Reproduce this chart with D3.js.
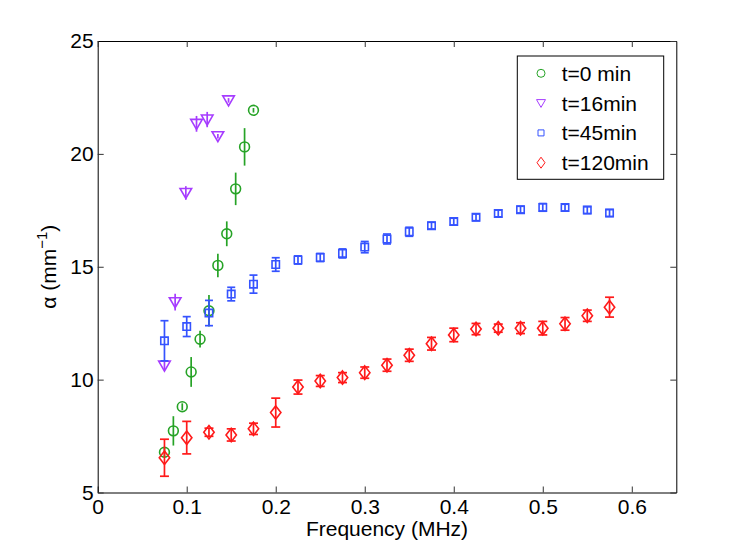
<!DOCTYPE html>
<meta charset="utf-8">
<style>
    body {
        margin: 0;
        overflow: hidden;
        background: #fff;
    }

    text {
        font-family: "Liberation Sans", Arial, sans-serif;
    }
</style>
<div id="container"></div>
<script src="https://cdn.jsdelivr.net/npm/d3@7"></script>
<script>
    const width = 747;
    const height = 553;

    // t=0 min
    const freq0 = [0.075, 0.085, 0.095, 0.105, 0.115, 0.125, 0.135, 0.145, 0.155, 0.165, 0.175];
    const alpha0 = [6.78, 7.73, 8.80, 10.34, 11.79, 13.05, 15.06, 16.46, 18.45, 20.31, 21.93];
    const err0 = [0.2, 0.65, 0.15, 0.66, 0.37, 0.7, 0.52, 0.55, 0.72, 0.83, 0.1];

    // t=16min
    const freq16 = [0.075, 0.087, 0.099, 0.111, 0.123, 0.135, 0.147];
    const alpha16 = [10.62, 13.43, 18.27, 21.33, 21.52, 20.78, 22.37];
    const err16 = [0.2, 0.37, 0.3, 0.35, 0.34, 0.1, 0.1];

    // t=45min
    const freq45 = [0.075, 0.1, 0.125, 0.15, 0.175, 0.2, 0.225, 0.25, 0.275, 0.3, 0.325,
        0.35, 0.375, 0.4, 0.425, 0.45, 0.475, 0.5, 0.525, 0.55, 0.575];
    const alpha45 = [11.72, 12.35, 12.95, 13.79, 14.23, 15.1, 15.3, 15.41, 15.59, 15.87, 16.23,
        16.55, 16.82, 17.0, 17.19, 17.36, 17.53, 17.63, 17.62, 17.51, 17.38];
    const err45 = [0.89, 0.44, 0.56, 0.3, 0.4, 0.3, 0.18, 0.18, 0.2, 0.25, 0.22,
        0.2, 0.15, 0.15, 0.15, 0.15, 0.15, 0.17, 0.15, 0.15, 0.15];

    // t=120min
    const freq120 = [0.075, 0.1, 0.125, 0.15, 0.175, 0.2, 0.225, 0.25, 0.275, 0.3, 0.325,
        0.35, 0.375, 0.4, 0.425, 0.45, 0.475, 0.5, 0.525, 0.55, 0.575];
    const alpha120 = [6.54, 7.43, 7.67, 7.55, 7.82, 8.54, 9.67, 9.94, 10.09, 10.31, 10.64,
        11.08, 11.59, 11.98, 12.24, 12.28, 12.28, 12.28, 12.47, 12.83, 13.21];
    const err120 = [0.82, 0.72, 0.18, 0.27, 0.25, 0.64, 0.31, 0.24, 0.22, 0.25, 0.27,
        0.27, 0.28, 0.3, 0.25, 0.18, 0.24, 0.3, 0.28, 0.25, 0.44];

    const xTicks = [0, 0.1, 0.2, 0.3, 0.4, 0.5, 0.6];
    const yTicks = [5, 10, 15, 20, 25];
    const labels = ["t=0 min", "t=16min", "t=45min", "t=120min"];

    const plotLeft = 97.7, plotRight = 676.3, plotTop = 41, plotBottom = 492.5;

    const x = d3.scaleLinear().domain([0, 0.65]).range([plotLeft, plotRight]);
    const y = d3.scaleLinear().domain([5, 25]).range([plotBottom, plotTop]);

    // marker path makers (centred on 0,0)
    const shapes = {
        circle: () => d3.symbol().type(d3.symbolCircle).size(Math.PI * 4.9 * 4.9)(),
        triangle: () => "M-5.8,-4.5L5.8,-4.5L0,5.5Z",
        square: () => "M-3.7,-3.7H3.7V3.7H-3.7Z",
        diamond: () => "M0,-6.7L5.2,0L0,6.7L-5.2,0Z"
    };
    const legendShapes = {
        circle: () => d3.symbol().type(d3.symbolCircle).size(Math.PI * 4 * 4)(),
        triangle: () => "M-4.5,-3.5L4.5,-3.5L0,4.3Z",
        square: () => "M-3,-3H3V3H-3Z",
        diamond: () => "M0,-5.5L4,0L0,5.5L-4,0Z"
    };

    const series = [
        {f: freq0, a: alpha0, e: err0, color: "#26a326", shape: "circle", cap: 0},
        {f: freq16, a: alpha16, e: err16, color: "#a63cff", shape: "triangle", cap: 0},
        {f: freq45, a: alpha45, e: err45, color: "#3553ff", shape: "square", cap: 4},
        {f: freq120, a: alpha120, e: err120, color: "#ff1a1a", shape: "diamond", cap: 4.5}
    ];

    const svg = d3.select("#container").append("svg")
        .attr("width", width)
        .attr("height", height);

    svg.append("rect").attr("width", width).attr("height", height).attr("fill", "#fff");

    // axes (matlab style: ticks inside, box around)
    const fmt = d3.format("~g");
    const fontSize = 21;

    const gx = svg.append("g")
        .attr("transform", `translate(0,${plotBottom})`)
        .call(d3.axisBottom(x).tickValues(xTicks).tickFormat(fmt).tickSizeInner(-6).tickSizeOuter(0).tickPadding(6.5));
    const gy = svg.append("g")
        .attr("transform", `translate(${plotLeft},0)`)
        .call(d3.axisLeft(y).tickValues(yTicks).tickFormat(fmt).tickSizeInner(-6).tickSizeOuter(0).tickPadding(4));
    const gxTop = svg.append("g")
        .attr("transform", `translate(0,${plotTop})`)
        .call(d3.axisTop(x).tickValues(xTicks).tickFormat("").tickSizeInner(-6).tickSizeOuter(0));
    const gyRight = svg.append("g")
        .attr("transform", `translate(${plotRight},0)`)
        .call(d3.axisRight(y).tickValues(yTicks).tickFormat("").tickSizeInner(-6).tickSizeOuter(0));

    [gx, gy, gxTop, gyRight].forEach(g => {
        g.select(".domain").attr("stroke", "#000").attr("stroke-width", 1);
        g.selectAll(".tick line").attr("stroke", "#333").attr("stroke-width", 1);
        g.selectAll(".tick text")
            .attr("fill", "#000")
            .style("font-size", fontSize + "px")
            .style("font-family", '"Liberation Sans", Arial, sans-serif');
    });

    // axis labels
    svg.append("text")
        .attr("x", (plotLeft + plotRight) / 2)
        .attr("y", 536)
        .attr("text-anchor", "middle")
        .style("font-size", fontSize + "px")
        .text("Frequency (MHz)");

    const ylab = svg.append("text")
        .attr("transform", `translate(56,${(plotTop + plotBottom) / 2}) rotate(-90)`)
        .attr("text-anchor", "middle")
        .style("font-size", fontSize + "px");
    ylab.append("tspan").text("α (mm");
    ylab.append("tspan").attr("dy", -9).style("font-size", "15px").text("−1");
    ylab.append("tspan").attr("dy", 9).text(")");

    // error bars and markers
    series.forEach(s => {
        const g = svg.append("g");
        const pts = s.f.map((f, i) => ({f: f, a: s.a[i], e: s.e[i]}));

        g.selectAll("line.bar").data(pts).join("line")
            .attr("class", "bar")
            .attr("x1", d => x(d.f)).attr("x2", d => x(d.f))
            .attr("y1", d => y(d.a - d.e)).attr("y2", d => y(d.a + d.e))
            .attr("stroke", s.color).attr("stroke-width", 1.7);

        if (s.cap > 0) {
            ["lo", "hi"].forEach(k => {
                g.selectAll("line.cap" + k).data(pts).join("line")
                    .attr("class", "cap" + k)
                    .attr("x1", d => x(d.f) - s.cap).attr("x2", d => x(d.f) + s.cap)
                    .attr("y1", d => y(k === "lo" ? d.a - d.e : d.a + d.e))
                    .attr("y2", d => y(k === "lo" ? d.a - d.e : d.a + d.e))
                    .attr("stroke", s.color).attr("stroke-width", 1.7);
            });
        }

        g.selectAll("path").data(pts).join("path")
            .attr("transform", d => `translate(${x(d.f)},${y(d.a)})`)
            .attr("d", shapes[s.shape]())
            .attr("fill", "none")
            .attr("stroke", s.color)
            .attr("stroke-width", 1.6);
    });

    // legend
    const lg = svg.append("g");
    lg.append("rect")
        .attr("x", 517.3).attr("y", 56)
        .attr("width", 146.4).attr("height", 123.3)
        .attr("fill", "#fff").attr("stroke", "#000").attr("stroke-width", 1);

    const rowY = d3.scalePoint().domain(labels).range([73.3, 162.7]);
    series.forEach((s, i) => {
        const yy = rowY(labels[i]);
        lg.append("path")
            .attr("transform", `translate(541,${yy})`)
            .attr("d", legendShapes[s.shape]())
            .attr("fill", "none")
            .attr("stroke", s.color)
            .attr("stroke-width", 1);
        lg.append("text")
            .attr("x", 561.7)
            .attr("y", yy)
            .attr("dy", "0.36em")
            .style("font-size", fontSize + "px")
            .text(labels[i]);
    });
</script>
